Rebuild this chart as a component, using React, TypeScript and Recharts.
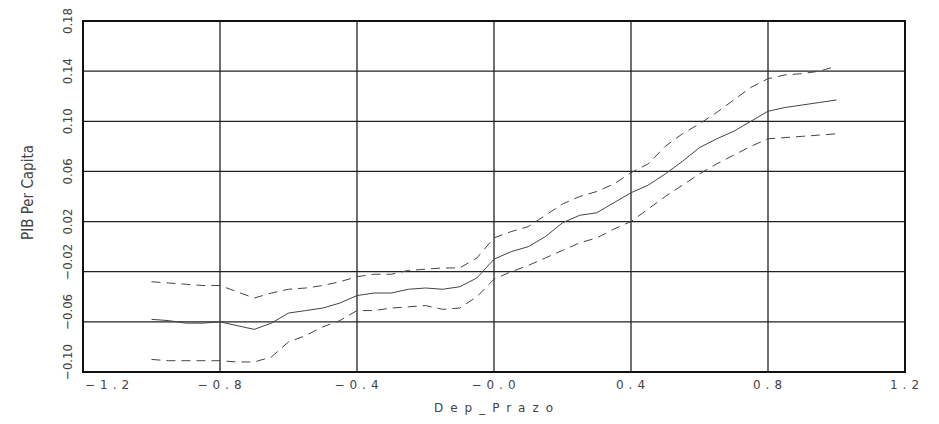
import {
  LineChart,
  Line,
  XAxis,
  YAxis,
  CartesianGrid,
  ReferenceArea,
  Label,
} from 'recharts';

// x positions (Dep_Prazo)
const depPrazo = [
  -1.0, -0.95, -0.9, -0.85, -0.8, -0.75, -0.7, -0.65, -0.6, -0.55, -0.5,
  -0.45, -0.4, -0.35, -0.3, -0.25, -0.2, -0.15, -0.1, -0.05, 0.0,
  0.05, 0.1, 0.15, 0.2, 0.25, 0.3, 0.35, 0.4, 0.45, 0.5,
  0.55, 0.6, 0.65, 0.7, 0.75, 0.8, 0.85, 0.9, 0.95, 1.0,
];

// fitted PIB Per Capita
const fitValues = [
  -0.058, -0.059, -0.061, -0.061, -0.06, -0.063, -0.066, -0.061, -0.053, -0.051, -0.049,
  -0.045, -0.039, -0.037, -0.037, -0.034, -0.033, -0.034, -0.032, -0.025, -0.01,
  -0.004, 0.0, 0.008, 0.019, 0.025, 0.027, 0.035, 0.043, 0.049, 0.058,
  0.068, 0.079, 0.086, 0.092, 0.1, 0.108, 0.111, 0.113, 0.115, 0.117,
];

// upper band (dashed)
const upperValues = [
  -0.028, -0.029, -0.03, -0.031, -0.031, -0.036, -0.041, -0.037, -0.034, -0.033, -0.031,
  -0.028, -0.024, -0.022, -0.022, -0.019, -0.018, -0.017, -0.017, -0.009, 0.007,
  0.012, 0.016, 0.025, 0.034, 0.04, 0.044, 0.05, 0.059, 0.066, 0.08,
  0.09, 0.098, 0.107, 0.117, 0.127, 0.134, 0.137, 0.138, 0.14, 0.144,
];

// lower band (dashed)
const lowerValues = [
  -0.09, -0.091, -0.091, -0.091, -0.091, -0.092, -0.092, -0.088, -0.076, -0.071, -0.064,
  -0.059, -0.051, -0.051, -0.049, -0.048, -0.047, -0.05, -0.049, -0.04, -0.026,
  -0.02, -0.015, -0.009, -0.003, 0.003, 0.007, 0.014, 0.02, 0.03, 0.04,
  0.049, 0.058, 0.066, 0.073, 0.08, 0.086, 0.087, 0.088, 0.089, 0.09,
];

const xTicks = [-1.2, -0.8, -0.4, 0, 0.4, 0.8, 1.2];
const yTicks = [-0.1, -0.06, -0.02, 0.02, 0.06, 0.1, 0.14, 0.18];

const data = depPrazo.map((x, i) => ({
  x,
  fit: fitValues[i],
  upper: upperValues[i],
  lower: lowerValues[i],
}));

const TEXT = '#444';
const LINE = '#444';

const fmt = (v: number, d: number) => {
  const s = Math.abs(v).toFixed(d);
  return v > 0 ? s : '\u2212' + s;
};

const XTick = ({ x, payload, index }: any) => {
  const first = index === 0;
  return (
    <text
      x={first ? x + 2 : x + 2}
      y={389}
      textAnchor={first ? 'start' : 'middle'}
      fontFamily="DejaVu Sans"
      fontSize={12}
      letterSpacing={5}
      fill={TEXT}
    >
      {fmt(payload.value, 1)}
    </text>
  );
};

const YTick = ({ y, payload }: any) => {
  const cy = payload.value < 0 ? y - 10 : y;
  const cx = 72;
  return (
    <text
      x={cx}
      y={cy}
      transform={`rotate(-90, ${cx}, ${cy})`}
      textAnchor="middle"
      fontFamily="DejaVu Sans Condensed, DejaVu Sans"
      fontStretch="condensed"
      fontSize={13}
      fill={TEXT}
    >
      {fmt(payload.value, 2)}
    </text>
  );
};

export default function App() {
  return (
    <div style={{ position: 'absolute', left: 0, top: 0, background: '#fff' }}>
      <LineChart
        width={939}
        height={424}
        data={data}
        margin={{ top: 21, right: 34, left: 0, bottom: 0 }}
      >
        <CartesianGrid stroke="#222" strokeWidth={1.3} />
        <XAxis
          dataKey="x"
          type="number"
          domain={[-1.2, 1.2]}
          ticks={xTicks}
          height={52}
          axisLine={false}
          tickLine={false}
          tick={<XTick />}
          interval={0}
        >
          <Label
            content={({ viewBox }: any) => (
              <text
                x={viewBox.x + viewBox.width / 2 + 3}
                y={412}
                textAnchor="middle"
                fontFamily="DejaVu Sans"
                fontSize={12}
                letterSpacing={7}
                fill={TEXT}
              >
                Dep_Prazo
              </text>
            )}
          />
        </XAxis>
        <YAxis
          type="number"
          domain={[-0.1, 0.18]}
          ticks={yTicks}
          width={83}
          axisLine={false}
          tickLine={false}
          tick={<YTick />}
          interval={0}
        >
          <Label
            content={({ viewBox }: any) => {
              const cy = viewBox.y + viewBox.height / 2 - 4;
              return (
                <text
                  x={33}
                  y={cy}
                  transform={`rotate(-90, 33, ${cy})`}
                  textAnchor="middle"
                  fontFamily="DejaVu Sans Condensed, DejaVu Sans"
                  fontStretch="condensed"
                  fontSize={15}
                  fill={TEXT}
                >
                  PIB Per Capita
                </text>
              );
            }}
          />
        </YAxis>
        <ReferenceArea
          x1={-1.2}
          x2={1.2}
          y1={-0.1}
          y2={0.18}
          fill="none"
          stroke="#111"
          strokeWidth={2}
          ifOverflow="visible"
        />
        <Line
          dataKey="upper"
          stroke={LINE}
          strokeWidth={1}
          strokeDasharray="9 6"
          dot={false}
          isAnimationActive={false}
        />
        <Line
          dataKey="fit"
          stroke={LINE}
          strokeWidth={1}
          dot={false}
          isAnimationActive={false}
        />
        <Line
          dataKey="lower"
          stroke={LINE}
          strokeWidth={1}
          strokeDasharray="9 6"
          dot={false}
          isAnimationActive={false}
        />
      </LineChart>
    </div>
  );
}
